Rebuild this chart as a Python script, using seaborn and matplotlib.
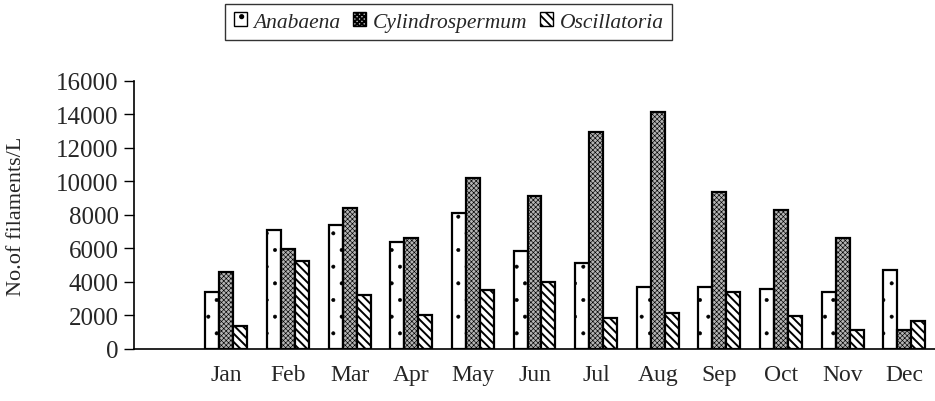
import matplotlib
matplotlib.use("Agg")
import matplotlib.pyplot as plt
import seaborn as sns
import pandas as pd
import numpy as np
from matplotlib.patches import Patch

months = ["Jan", "Feb", "Mar", "Apr", "May", "Jun", "Jul", "Aug", "Sep", "Oct", "Nov", "Dec"]
anabaena = [3400, 7100, 7400, 6400, 8100, 5850, 5150, 3700, 3700, 3600, 3400, 4700]
cylindrospermum = [4600, 5950, 8400, 6600, 10200, 9150, 12950, 14150, 9350, 8300, 6650, 1150]
oscillatoria = [1350, 5250, 3200, 2000, 3500, 4000, 1850, 2150, 3400, 1950, 1150, 1650]
series_names = ["Anabaena", "Cylindrospermum", "Oscillatoria"]
y_ticks = [0, 2000, 4000, 6000, 8000, 10000, 12000, 14000, 16000]

rows = []
for name, vals in zip(series_names, [anabaena, cylindrospermum, oscillatoria]):
    for m, v in zip(months, vals):
        rows.append({"month": m, "species": name, "value": v})
df = pd.DataFrame(rows)

sns.set_style("white")
plt.rcParams["font.family"] = ["Liberation Serif", "DejaVu Serif"]
plt.rcParams["hatch.linewidth"] = 1.3

fig = plt.figure(figsize=(9.35, 4.02), dpi=100)
ax = fig.add_axes([0.1433, 0.1294, 0.8567, 0.6667])

faces = ["white", "#b4b4b4", "white"]
order = [" "] + months
sns.barplot(data=df, x="month", y="value", hue="species", order=order,
            hue_order=series_names, width=0.68, gap=0, ax=ax,
            palette=faces, saturation=1,
            edgecolor="black", linewidth=1.6, legend=False, errorbar=None)

hatches = [".", "xxxxxxx", "\\\\\\\\"]
hatch_lw = [0.4, 0.45, 1.4]
for cont, h, hl in zip(ax.containers, hatches, hatch_lw):
    for p in cont:
        p.set_hatch(h)
        p.set_edgecolor("black")
        if hasattr(p, "set_hatch_linewidth"):
            p.set_hatch_linewidth(hl)

ax.set_xlim(-0.5, 12.5)
ax.set_ylim(0, 16000)
ax.set_yticks(y_ticks)
ax.set_yticklabels([str(t) for t in y_ticks], fontsize=18)
ax.set_xticks(range(13))
ax.set_xticklabels([""] + months, fontsize=17)
ax.tick_params(axis="x", which="major", length=0, pad=11)
ax.set_xticks(np.arange(0.5, 12.5, 1.0), minor=True)
ax.tick_params(axis="x", which="minor", length=6, width=1, direction="out", color="black")
ax.tick_params(axis="y", length=7, width=1, direction="out", color="black", pad=4, left=True)
for s in ["top", "right"]:
    ax.spines[s].set_visible(False)
for s in ["left", "bottom"]:
    ax.spines[s].set_color("black")
    ax.spines[s].set_linewidth(1.2)

ax.set_xlabel("")
ax.set_ylabel("No.of filaments/L", fontsize=16)
ax.yaxis.set_label_coords(-0.135, 0.5)

handles = []
for fc, h, hl in zip(faces, hatches, hatch_lw):
    hp = Patch(facecolor=fc, edgecolor="black", hatch=h, linewidth=1)
    if hasattr(hp, "set_hatch_linewidth"):
        hp.set_hatch_linewidth(hl)
    handles.append(hp)
leg = fig.legend(handles, series_names, loc="center", bbox_to_anchor=(0.48, 0.943),
                 ncol=3, frameon=True, fancybox=False, edgecolor="black",
                 prop={"family": "Liberation Serif", "style": "italic", "size": 15.5},
                 handlelength=0.6, handleheight=0.6, handletextpad=0.3,
                 columnspacing=0.6, borderpad=0.4, borderaxespad=0)
leg.get_frame().set_linewidth(1.0)

fig.savefig("out.png", dpi=100)
